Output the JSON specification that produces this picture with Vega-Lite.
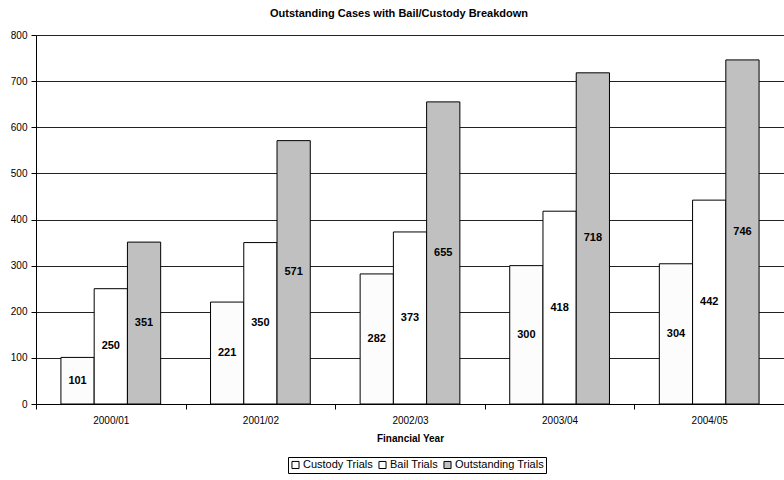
{
  "$schema": "https://vega.github.io/schema/vega-lite/v6.json",
  "autosize": {"type": "none"},
  "width": 748,
  "height": 369,
  "padding": {"left": 36, "top": 35, "right": 0, "bottom": 76},
  "background": "white",
  "config": {
    "font": "Liberation Sans",
    "view": {"stroke": null}
  },
  "title": {
    "text": "Outstanding Cases with Bail/Custody Breakdown",
    "fontSize": 11,
    "fontWeight": "bold",
    "font": "Liberation Sans",
    "color": "#000",
    "anchor": "middle",
    "dx": -11,
    "offset": 11
  },
  "data": {
    "values": [
      {"year": "2000/01", "series": "Custody Trials", "value": 101},
      {"year": "2000/01", "series": "Bail Trials", "value": 250},
      {"year": "2000/01", "series": "Outstanding Trials", "value": 351},
      {"year": "2001/02", "series": "Custody Trials", "value": 221},
      {"year": "2001/02", "series": "Bail Trials", "value": 350},
      {"year": "2001/02", "series": "Outstanding Trials", "value": 571},
      {"year": "2002/03", "series": "Custody Trials", "value": 282},
      {"year": "2002/03", "series": "Bail Trials", "value": 373},
      {"year": "2002/03", "series": "Outstanding Trials", "value": 655},
      {"year": "2003/04", "series": "Custody Trials", "value": 300},
      {"year": "2003/04", "series": "Bail Trials", "value": 418},
      {"year": "2003/04", "series": "Outstanding Trials", "value": 718},
      {"year": "2004/05", "series": "Custody Trials", "value": 304},
      {"year": "2004/05", "series": "Bail Trials", "value": 442},
      {"year": "2004/05", "series": "Outstanding Trials", "value": 746}
    ]
  },
  "encoding": {
    "x": {
      "field": "year",
      "type": "nominal",
      "title": "Financial Year",
      "scale": {"paddingInner": 0, "paddingOuter": 0},
      "axis": {
        "labelAngle": 0,
        "labelFontSize": 10,
        "labelColor": "#000",
        "labelPadding": 6,
        "titleFontSize": 10,
        "titleFontWeight": "bold",
        "titleColor": "#000",
        "titlePadding": 8,
        "domainColor": "#000",
        "tickColor": "#000",
        "tickBand": "extent",
        "tickSize": 5,
        "grid": false
      }
    },
    "xOffset": {
      "field": "series",
      "type": "nominal",
      "sort": ["Custody Trials", "Bail Trials", "Outstanding Trials"],
      "scale": {"paddingInner": 0, "paddingOuter": 0.75}
    }
  },
  "layer": [
    {
      "mark": {"type": "bar", "stroke": "#000", "strokeWidth": 1},
      "encoding": {
        "y": {
          "field": "value",
          "type": "quantitative",
          "title": null,
          "scale": {"domain": [0, 800]},
          "axis": {
            "values": [0, 100, 200, 300, 400, 500, 600, 700, 800],
            "labelFontSize": 10,
            "labelColor": "#000",
            "labelPadding": 4,
            "domainColor": "#000",
            "tickColor": "#000",
            "tickSize": 5,
            "gridColor": "#222",
            "gridOpacity": 1
          }
        },
        "color": {
          "field": "series",
          "type": "nominal",
          "sort": ["Custody Trials", "Bail Trials", "Outstanding Trials"],
          "scale": {
            "domain": ["Custody Trials", "Bail Trials", "Outstanding Trials"],
            "range": ["#fcfcfc", "#ffffff", "#c0c0c0"]
          },
          "legend": {
            "title": null,
            "orient": "none",
            "legendX": 252,
            "legendY": 422,
            "direction": "horizontal",
            "symbolType": "square",
            "symbolSize": 50,
            "symbolStrokeColor": "#000",
            "symbolStrokeWidth": 1,
            "symbolOpacity": 1,
            "labelFontSize": 11,
            "labelColor": "#000",
            "labelOffset": 2,
            "columnPadding": 3,
            "strokeColor": "#000",
            "padding": 2
          }
        }
      }
    },
    {
      "mark": {"type": "text", "fontWeight": "bold", "fontSize": 11, "color": "#000", "font": "Liberation Sans", "baseline": "middle"},
      "encoding": {
        "y": {
          "field": "value",
          "type": "quantitative",
          "scale": {"domain": [0, 1600]},
          "axis": null
        },
        "text": {"field": "value", "type": "quantitative"}
      }
    }
  ],
  "resolve": {"scale": {"y": "independent"}}
}
